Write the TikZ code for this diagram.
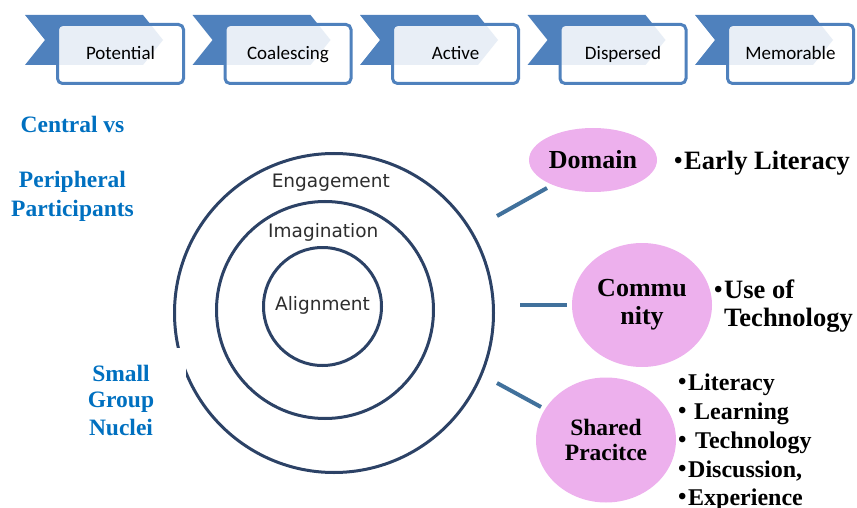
\documentclass[tikz,border=0pt]{standalone}
\usepackage{fontspec}
\setmainfont{Liberation Serif}
\newfontfamily\calibfont{Carlito}
\newfontfamily\dvfont{DejaVu Sans}
\usetikzlibrary{shapes.geometric}
\definecolor{chevblue}{RGB}{79,129,189}
\definecolor{ringcol}{RGB}{44,66,102}
\definecolor{linkcol}{RGB}{65,113,156}
\definecolor{pinkfill}{RGB}{237,176,237}
\definecolor{leftblue}{RGB}{0,112,192}
\definecolor{ringtext}{RGB}{45,45,45}
\newcommand\mybul[1]{\makebox[#1][l]{\raisebox{0.8pt}{\fontsize{24}{24}\selectfont•}}}
\begin{document}
\begin{tikzpicture}[x=1pt,y=-1pt,
  chev/.style={fill=chevblue},
  stagebox/.style={draw=chevblue, line width=3pt, rounded corners=5pt, fill=white,
    fill opacity=0.87, text opacity=1, minimum width=126pt, minimum height=59pt,
    inner sep=0pt, text height=14.5pt, text depth=3.5pt,
    font=\calibfont\fontsize{19}{22}\selectfont},
  ring/.style={draw=ringcol, line width=3pt, circle, inner sep=0pt},
  ringlabel/.style={anchor=base, inner sep=0pt, text=ringtext,
    font=\dvfont\fontsize{18.5}{22}\selectfont},
  link/.style={draw=linkcol, line width=4pt},
  bubble/.style={ellipse, fill=pinkfill, inner sep=0pt, align=center},
  bigbold/.style={font=\bfseries\fontsize{26}{28}\selectfont},
  listtext/.style={anchor=base west, inner sep=0pt, font=\bfseries\fontsize{26.5}{28}\selectfont},
  smalllist/.style={anchor=base west, inner sep=0pt, font=\bfseries\fontsize{24}{28}\selectfont},
  leftlabel/.style={anchor=base, inner sep=0pt, text=leftblue, font=\bfseries\fontsize{23.5}{28}\selectfont}
]
\useasboundingbox (0,0) rectangle (857,508);

% stages
\foreach \i/\t in {0/Potential,1/Coalescing,2/Active,3/Dispersed,4/Memorable}{
  \path[chev] ({25+167.5*\i},15) -- ({143+167.5*\i},15) -- ({163+167.5*\i},40)
     -- ({143+167.5*\i},65) -- ({25+167.5*\i},65) -- ({45+167.5*\i},40) -- cycle;
  \node[stagebox] (stage\i) at ({120.5+167.5*\i},54) {\t};
}

% rings
\node[ring, minimum size=319pt] (outer) at (334,313) {};
\node[ring, minimum size=217pt] (middle) at (325,310) {};
\node[ring, minimum size=118pt] (inner) at (322.5,306.5) {};
\fill[white] (140,348) rectangle (186,470);

\node[ringlabel] (eng) at (330.8,188) {Engagement};
\node[ringlabel] (ima) at (323.3,237) {Imagination};
\node[ringlabel] (ali) at (322.5,310.7) {Alignment};

% left labels
\node[leftlabel] (cen) at (72.5,133) {Central vs};
\node[leftlabel] (per) at (72.5,187) {Peripheral};
\node[leftlabel] (par) at (72.5,216) {Participants};
\node[leftlabel] (sma) at (121,381) {Small};
\node[leftlabel] (gro) at (121,407) {Group};
\node[leftlabel] (nuc) at (121,435) {Nuclei};

% bubbles
\node[bubble, bigbold, minimum width=128pt, minimum height=64pt] (dom) at (593,160) {Domain};
\node[bubble, bigbold, minimum width=140pt, minimum height=124pt] (com) at (642,305) {Commu\\nity};
\node[bubble, font=\bfseries\fontsize{23.5}{25}\selectfont, minimum width=140pt, minimum height=125pt] (sha) at (606,440) {Shared\\Pracitce};

% connectors
\coordinate (l1a) at (497,216); \coordinate (l1b) at (547,188);
\coordinate (l2a) at (520,305); \coordinate (l2b) at (567,305);
\coordinate (l3a) at (497,383); \coordinate (l3b) at (541,407);
\draw[link] (l1a) -- (l1b);
\draw[link] (l2a) -- (l2b);
\draw[link] (l3a) -- (l3b);

% lists
\node[listtext] (el) at (674,169) {\mybul{10pt}Early Literacy};
\node[listtext] (uo) at (714,298) {\mybul{10pt}Use of};
\node[listtext] (te) at (724,326) {Technology};
\node[smalllist] (sp1) at (678,390.7) {\mybul{10pt}Literacy};
\node[smalllist] (sp2) at (678,419) {\mybul{16pt}Learning};
\node[smalllist] (sp3) at (678,448) {\mybul{17pt}Technology};
\node[smalllist] (sp4) at (678,477) {\mybul{10pt}Discussion,};
\node[smalllist] (sp5) at (678,505) {\mybul{10pt}Experience};
\end{tikzpicture}
\end{document}
